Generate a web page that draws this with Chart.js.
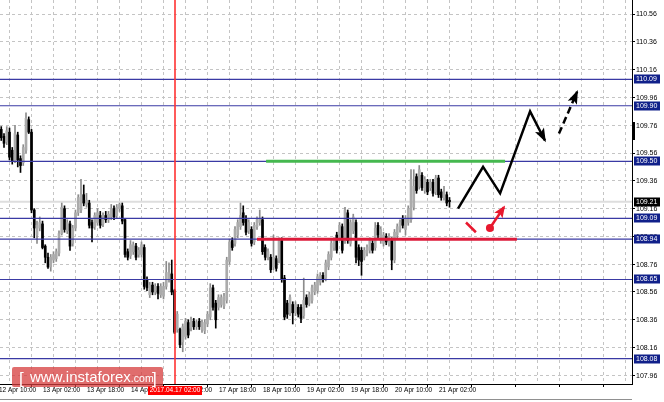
<!DOCTYPE html>
<html>
<head>
<meta charset="utf-8">
<script src="https://cdn.jsdelivr.net/npm/chart.js@4.4.1/dist/chart.umd.min.js"></script>
<style>
html, body { margin: 0; padding: 0; background: #fff; }
canvas { display: block; }
</style>
</head>
<body>
<canvas id="wykres" width="664" height="402"></canvas>
<script>
// Świece H1 (indeks 0 = 12 Apr 10:00)
const otwarcie = [
109.65,109.73,109.68,109.64,109.71,109.58,109.50,109.69,109.52,109.49,
109.58,109.80,109.71,109.15,108.97,109.02,109.05,108.89,108.81,108.74,
108.79,108.80,108.84,108.98,109.16,109.00,109.05,108.91,109.02,109.13,
109.15,109.26,109.19,109.20,109.06,109.03,109.06,109.11,109.05,109.11,
109.08,109.10,109.16,109.11,109.16,109.18,109.08,108.85,108.82,108.85,
108.89,108.83,108.83,108.88,108.65,108.54,108.61,108.56,108.60,108.54,
108.53,108.60,108.65,108.69,108.57,108.29,108.29,108.20,108.24,108.34,
108.30,108.35,108.31,108.35,108.29,108.28,108.33,108.38,108.59,108.48,
108.45,108.47,108.46,108.50,108.78,108.93,108.91,108.97,109.03,109.13,
109.09,109.00,109.01,108.92,109.03,109.06,109.08,108.88,108.81,108.81,
108.74,108.80,108.79,108.93,108.66,108.48,108.41,108.47,108.41,108.45,
108.45,108.39,108.52,108.48,108.50,108.56,108.57,108.63,108.68,108.66,
108.74,108.81,108.88,108.97,108.95,109.03,108.93,109.13,108.91,109.00,
109.06,108.88,108.86,108.81,108.84,108.86,108.91,108.88,109.04,108.93,
108.91,108.96,108.91,108.93,108.79,108.97,109.01,109.09,109.01,109.06,
109.08,109.17,109.39,109.32,109.40,109.29,109.35,109.31,109.35,109.28,
109.38,109.28,109.24,109.26,109.22
];
const maksima = [
109.76,109.75,109.70,109.75,109.74,109.60,109.76,109.71,109.54,109.62,
109.85,109.82,109.73,109.16,109.07,109.10,109.07,108.90,108.84,108.83,
108.85,108.87,109.00,109.20,109.18,109.08,109.07,109.04,109.15,109.26,
109.37,109.33,109.27,109.22,109.08,109.13,109.16,109.14,109.13,109.14,
109.14,109.19,109.18,109.19,109.20,109.20,109.09,108.87,108.93,108.92,
108.91,108.88,108.92,108.90,108.67,108.63,108.63,108.62,108.62,108.62,
108.63,108.78,108.77,108.79,108.58,108.42,108.30,108.33,108.37,108.36,
108.38,108.37,108.36,108.37,108.36,108.36,108.42,108.62,108.61,108.50,
108.54,108.54,108.55,108.81,108.94,108.95,109.03,109.08,109.20,109.18,
109.11,109.08,109.03,109.06,109.10,109.15,109.10,108.90,108.87,108.83,
108.97,108.82,108.95,108.95,108.68,108.50,108.54,108.49,108.49,108.47,
108.47,108.66,108.54,108.56,108.61,108.63,108.69,108.70,108.70,108.79,
108.85,108.93,108.95,108.99,109.06,109.05,109.17,109.15,109.08,109.12,
109.08,108.90,108.88,108.88,108.90,108.95,108.93,109.06,109.06,109.03,
108.99,108.98,108.98,108.95,109.01,109.05,109.08,109.11,109.11,109.18,
109.44,109.44,109.41,109.47,109.42,109.39,109.37,109.37,109.37,109.40,
109.40,109.30,109.32,109.28,109.24
];
const minima = [
109.63,109.65,109.60,109.62,109.51,109.48,109.49,109.46,109.42,109.47,
109.56,109.70,109.13,108.95,108.91,109.00,108.87,108.77,108.73,108.71,
108.77,108.78,108.82,108.97,108.99,108.98,108.86,108.89,109.00,109.11,
109.13,109.18,109.17,109.02,108.92,109.01,109.04,109.02,109.03,109.06,
109.06,109.08,109.08,109.09,109.14,109.05,108.81,108.79,108.80,108.83,
108.79,108.81,108.81,108.58,108.57,108.52,108.54,108.54,108.51,108.52,
108.51,108.58,108.63,108.54,108.26,108.27,108.16,108.13,108.22,108.23,
108.28,108.29,108.29,108.29,108.27,108.26,108.31,108.36,108.43,108.30,
108.43,108.45,108.44,108.48,108.76,108.86,108.89,108.95,109.01,109.04,
108.97,108.98,108.89,108.90,109.01,109.04,108.83,108.79,108.79,108.70,
108.72,108.71,108.77,108.63,108.36,108.37,108.39,108.33,108.39,108.38,
108.34,108.37,108.45,108.46,108.48,108.54,108.55,108.61,108.63,108.64,
108.72,108.79,108.86,108.84,108.93,108.84,108.91,108.91,108.89,108.98,
108.77,108.75,108.68,108.79,108.82,108.84,108.84,108.86,108.95,108.91,
108.89,108.90,108.89,108.72,108.77,108.95,108.99,109.02,108.97,109.04,
109.06,109.15,109.27,109.30,109.29,109.27,109.26,109.29,109.25,109.26,
109.24,109.22,109.22,109.18,109.17
];
const zamkniecie = [
109.73,109.67,109.63,109.72,109.53,109.50,109.70,109.51,109.47,109.60,
109.81,109.71,109.15,109.02,109.04,109.06,108.88,108.81,108.74,108.81,
108.83,108.85,108.98,109.17,109.01,109.06,108.89,109.02,109.13,109.24,
109.26,109.20,109.22,109.04,109.02,109.11,109.13,109.04,109.11,109.08,
109.12,109.16,109.10,109.17,109.19,109.07,108.83,108.81,108.90,108.90,
108.81,108.86,108.90,108.60,108.59,108.61,108.56,108.60,108.55,108.60,
108.60,108.70,108.70,108.56,108.27,108.40,108.18,108.31,108.35,108.25,
108.36,108.31,108.34,108.31,108.34,108.34,108.40,108.59,108.45,108.36,
108.52,108.52,108.53,108.79,108.92,108.88,109.01,109.06,109.11,109.06,
108.99,109.06,108.91,109.04,109.08,109.09,108.85,108.81,108.85,108.72,
108.81,108.73,108.93,108.65,108.38,108.40,108.52,108.41,108.47,108.40,
108.37,108.50,108.47,108.54,108.59,108.61,108.67,108.68,108.65,108.77,
108.83,108.91,108.93,108.86,109.04,108.86,109.15,108.93,109.06,109.10,
108.81,108.79,108.78,108.86,108.88,108.93,108.86,109.02,108.97,109.01,
108.97,108.92,108.96,108.79,108.99,109.03,109.06,109.04,109.09,109.16,
109.37,109.32,109.29,109.44,109.31,109.37,109.28,109.35,109.27,109.38,
109.26,109.24,109.28,109.20,109.21
];

// Oś czasu
const etykietyIdx = [0, 16, 32, 48, 64, 80, 96, 112, 128, 144, 160];
const etykietyCzasu = ['12 Apr 10:00', '13 Apr 02:00', '13 Apr 18:00', '14 Apr 10:00', '17 Apr 02:00',
  '17 Apr 18:00', '18 Apr 10:00', '19 Apr 02:00', '19 Apr 18:00', '20 Apr 10:00', '21 Apr 02:00'];
const liniaCzasuIdx = 64;
const liniaCzasuTekst = '2017.04.17 02:00';

// Oś cen
const cenyTicki = [107.96, 108.16, 108.36, 108.56, 108.76, 108.96, 109.16, 109.36, 109.56, 109.76, 109.96, 110.16, 110.36, 110.56];
const poziomy = [110.09, 109.90, 109.50, 109.09, 108.94, 108.65, 108.08];
const cenaBiezaca = 109.21;

// Strefy i prognoza
const zielonaLinia = { od: 97.3, do: 184.2, cena: 109.50 };
const czerwonaLinia = { od: 94.0, do: 188.5, cena: 108.94 };
const prognozaX = [167.1, 176.2, 182.4, 193.3, 198.7];
const prognozaY = [109.16, 109.46, 109.27, 109.86, 109.65];
const przerywanaX = [203.8, 210.4];
const przerywanaY = [109.70, 110.00];
const czerwonaKreskaX = [170.0, 173.6];
const czerwonaKreskaY = [109.06, 108.99];
const czerwonaStrzalkaX = [178.7, 183.8];
const czerwonaStrzalkaY = [109.02, 109.17];

const xMin = 0.545, xMax = 230.36;
const yMin = 107.898, yMax = 110.661;

const idx = otwarcie.map((_, i) => i);
const wzrost = i => zamkniecie[i] >= otwarcie[i];

function linia(label, xs, ys, kolor, grubosc, order, extra) {
    return Object.assign({
        type: 'line', label: label,
        data: xs.map((v, i) => ({ x: v, y: ys[i] })),
        borderColor: kolor, borderWidth: grubosc, pointRadius: 0,
        fill: false, tension: 0, order: order
    }, extra || {});
}

const zbiory = [
    linia('biezaca', [xMin, xMax], [cenaBiezaca, cenaBiezaca], '#dedede', 2, 40),
    {
        type: 'bar', label: 'knoty',
        data: idx.map(i => ({ x: i, y: [minima[i], maksima[i]] })),
        backgroundColor: idx.map(i => wzrost(i) ? '#8c8c8c' : '#000000'),
        barThickness: 1, grouped: false, order: 30
    },
    {
        type: 'bar', label: 'korpusy',
        data: idx.map(i => ({ x: i, y: [otwarcie[i], zamkniecie[i]] })),
        backgroundColor: idx.map(i => wzrost(i) ? '#ababab' : '#000000'),
        barThickness: 2, minBarLength: 1, grouped: false, order: 29
    }
];
poziomy.forEach((p, k) => zbiory.push(linia('poziom' + k, [xMin, xMax], [p, p], '#3a3aa4', 1.2, 20)));
zbiory.push(linia('zielona', [zielonaLinia.od, zielonaLinia.do], [zielonaLinia.cena, zielonaLinia.cena], '#45b84f', 3, 10));
zbiory.push(linia('czerwona', [czerwonaLinia.od, czerwonaLinia.do], [czerwonaLinia.cena, czerwonaLinia.cena], '#dc1a3a', 3, 10));
zbiory.push(linia('prognoza', prognozaX, prognozaY, '#000000', 2.5, 1));
zbiory.push(linia('przerywana', przerywanaX, przerywanaY, '#000000', 2.5, 1, { borderDash: [7, 4] }));
zbiory.push(linia('kreska', czerwonaKreskaX, czerwonaKreskaY, '#e8182e', 2.5, 1));
zbiory.push(linia('strzalka', czerwonaStrzalkaX, czerwonaStrzalkaY, '#e8182e', 2.5, 1, {
    pointRadius: c => c.dataIndex === 0 ? 4 : 0,
    pointBackgroundColor: '#e8182e', pointBorderWidth: 0
}));

function grot(ctx, a, b, kolor, dl, szer) {
    const kat = Math.atan2(b.y - a.y, b.x - a.x);
    ctx.save();
    ctx.fillStyle = kolor;
    ctx.translate(b.x, b.y);
    ctx.rotate(kat);
    ctx.beginPath();
    ctx.moveTo(2, 0);
    ctx.lineTo(-dl, -szer);
    ctx.lineTo(-dl * 0.75, 0);
    ctx.lineTo(-dl, szer);
    ctx.closePath();
    ctx.fill();
    ctx.restore();
}

function punkty(chart, label) {
    const i = chart.data.datasets.findIndex(d => d.label === label);
    return chart.getDatasetMeta(i).data;
}

const rysunki = {
    id: 'rysunki',
    afterDatasetsDraw(chart) {
        const { ctx, chartArea: a, scales: { x } } = chart;
        const xr = Math.round(x.getPixelForValue(liniaCzasuIdx));
        ctx.save();
        ctx.setLineDash([]);
        ctx.strokeStyle = 'rgba(255,50,50,0.8)';
        ctx.lineWidth = 2;
        ctx.beginPath();
        ctx.moveTo(xr, a.top);
        ctx.lineTo(xr, a.bottom);
        ctx.stroke();
        ctx.restore();

        let p = punkty(chart, 'prognoza');
        grot(ctx, p[p.length - 2], p[p.length - 1], '#000', 12, 5);
        p = punkty(chart, 'przerywana');
        grot(ctx, p[0], p[1], '#000', 12, 5);
        p = punkty(chart, 'strzalka');
        grot(ctx, p[0], p[1], '#e8182e', 10, 5);
    },
    afterDraw(chart) {
        const { ctx, chartArea: a, scales: { x, y } } = chart;
        ctx.save();
        // etykiety cen
        ctx.font = '7px "Liberation Sans"';
        ctx.fillStyle = '#000';
        ctx.textBaseline = 'middle';
        ctx.textAlign = 'left';
        cenyTicki.forEach(v => ctx.fillText(v.toFixed(2), a.right + 4, y.getPixelForValue(v) + 0.5));

        // etykiety czasu
        ctx.font = '6.5px "Liberation Sans"';
        etykietyIdx.forEach((v, k) => {
            ctx.fillText(etykietyCzasu[k], x.getPixelForValue(v) + 0.5, a.bottom + 6.5);
        });
        // etykieta czerwonej linii
        const xr = Math.round(x.getPixelForValue(liniaCzasuIdx));
        ctx.fillStyle = '#ff0000';
        ctx.fillRect(xr - 27, a.bottom + 2, 54, 9);
        ctx.fillStyle = '#fff';
        ctx.textAlign = 'center';
        ctx.fillText(liniaCzasuTekst, xr, a.bottom + 6.5);

        // etykiety poziomów
        ctx.font = '7px "Liberation Sans"';
        ctx.textAlign = 'left';
        const ramka = (cena, kolor) => {
            const py = Math.round(y.getPixelForValue(cena));
            ctx.fillStyle = kolor;
            ctx.fillRect(a.right + 2, py - 4.5, 26, 9);
            ctx.fillStyle = '#fff';
            ctx.fillText(cena.toFixed(2), a.right + 4, py + 0.5);
        };
        poziomy.forEach(p => ramka(p, '#10208a'));
        ramka(cenaBiezaca, '#000');

        // znacznik przewijania
        ctx.fillStyle = '#000';
        ctx.fillRect(a.right + 1, 122, 2, 18);

        // dolna linia
        ctx.strokeStyle = '#909090';
        ctx.lineWidth = 1;
        ctx.beginPath();
        ctx.moveTo(0, 399.5);
        ctx.lineTo(a.right, 399.5);
        ctx.stroke();

        // znak wodny
        ctx.fillStyle = 'rgba(214, 60, 60, 0.75)';
        ctx.beginPath();
        ctx.roundRect(12, 367, 151, 20, 2);
        ctx.fill();
        ctx.fillStyle = '#fff';
        ctx.textBaseline = 'alphabetic';
        ctx.font = '17px "Liberation Sans"';
        ctx.fillText('[', 19, 384);
        ctx.fillText(']', 152, 384);
        ctx.font = '15px "Liberation Sans"';
        ctx.fillText('www.instaforex', 30, 382);
        const w = ctx.measureText('www.instaforex').width;
        ctx.font = '10.5px "Liberation Sans"';
        ctx.fillText('.com', 30 + w, 382);
        ctx.restore();
    }
};

const ctx = document.getElementById('wykres').getContext('2d');
const chart = new Chart(ctx, {
    type: 'bar',
    data: { datasets: zbiory },
    options: {
        responsive: false,
        animation: false,
        devicePixelRatio: 1,
        layout: { padding: 0, autoPadding: false },
        plugins: { legend: { display: false }, tooltip: { enabled: false } },
        scales: {
            x: {
                type: 'linear', min: xMin, max: xMax, offset: false,
                afterBuildTicks: s => { s.ticks = []; for (let v = 8; v <= xMax; v += 8) s.ticks.push({ value: v }); },
                afterFit: s => { s.height = 18; },
                ticks: { display: false },
                grid: {
                    color: '#c4c4c4', lineWidth: 1, drawTicks: true, tickLength: 3, tickWidth: 1,
                    tickColor: c => (c.tick && c.tick.value % 16 === 0) ? '#000' : 'rgba(0,0,0,0)',
                    tickBorderDash: [1, 0]
                },
                border: { display: true, color: '#000', width: 1, dash: [3, 3] }
            },
            y: {
                type: 'linear', position: 'right', min: yMin, max: yMax,
                afterBuildTicks: s => { s.ticks = cenyTicki.map(v => ({ value: v })); },
                afterFit: s => { s.width = 32; },
                ticks: { display: false },
                grid: {
                    color: '#c4c4c4', lineWidth: 1, drawTicks: true, tickLength: 3, tickWidth: 1,
                    tickColor: '#000', tickBorderDash: [1, 0]
                },
                border: { display: true, color: '#000', width: 1, dash: [3, 3] }
            }
        }
    },
    plugins: [rysunki]
});
</script>
</body>
</html>
